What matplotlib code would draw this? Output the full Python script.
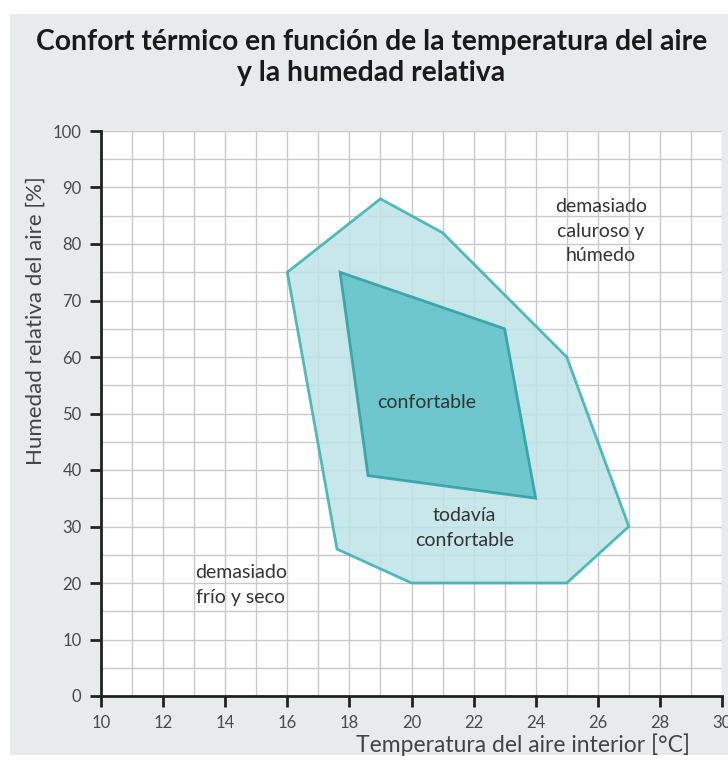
import matplotlib
matplotlib.use("Agg")
import matplotlib.pyplot as plt
from matplotlib.patches import Polygon, Rectangle

plt.rcParams['font.family'] = ['Lato', 'DejaVu Sans']

# outer zone: "todavía confortable"
outer_t = [16, 19, 21, 25, 27, 25, 20, 17.6]
outer_h = [75, 88, 82, 60, 30, 20, 20, 26]
# inner zone: "confortable"
inner_t = [17.7, 23, 24, 18.6]
inner_h = [75, 65, 35, 39]

x_ticks = [10, 12, 14, 16, 18, 20, 22, 24, 26, 28, 30]
y_ticks = [0, 10, 20, 30, 40, 50, 60, 70, 80, 90, 100]

labels = [
    ("demasiado\ncaluroso y\nhúmedo", 26.1, 82.3),
    ("confortable", 20.5, 52.0),
    ("todavía\nconfortable", 21.7, 29.7),
    ("demasiado\nfrío y seco", 14.5, 19.6),
]

fig = plt.figure(figsize=(7.28, 7.65), dpi=100)
fig.patch.set_facecolor('white')
fig.patches.append(Rectangle((10/728, 10/765), 1 - 10/728, 1 - 24/765,
                             transform=fig.transFigure, facecolor='#e7ebec',
                             edgecolor='none', zorder=-5))

ax = fig.add_axes([101/728, 1 - 696/765, 621/728, 565/765])
ax.set_facecolor('white')
ax.set_xlim(10, 30)
ax.set_ylim(0, 100)

# grid
for xv in range(10, 31):
    ax.axvline(xv, color='#c9c9c9', lw=1.0, zorder=1)
for yv in range(0, 101, 5):
    ax.axhline(yv, color='#c9c9c9', lw=1.0, zorder=1)

ax.add_patch(Polygon(list(zip(outer_t, outer_h)), closed=True,
                     facecolor='#bfe3e7', edgecolor='#35b0b0', lw=2, alpha=0.85, zorder=2))
ax.add_patch(Polygon(list(zip(inner_t, inner_h)), closed=True,
                     facecolor='#5fc2c7', edgecolor='#2a9fa3', lw=2, alpha=0.85, zorder=3))

for txt, xx, yy in labels:
    ax.text(xx, yy, txt, ha='center', va='center', fontsize=14,
            color='#333333', linespacing=1.55, zorder=4)

ax.set_xticks(x_ticks)
ax.set_yticks(y_ticks)
ax.tick_params(direction='out', length=8, width=2, color='#222222',
               labelsize=12, labelcolor='#4a4a4a', pad=6)
for s in ['top', 'right']:
    ax.spines[s].set_visible(False)
for s in ['left', 'bottom']:
    ax.spines[s].set_linewidth(2)
    ax.spines[s].set_color('#222222')

ax.set_ylabel("Humedad relativa del aire [%]", fontsize=16, color='#444444',
              va='center')
ax.yaxis.set_label_coords(-0.106, 0.665)
ax.set_xlabel("Temperatura del aire interior [°C]", fontsize=16.5, color='#444444',
              ha='right', va='center')
ax.xaxis.set_label_coords(0.948, -0.087)

fig.text(0.51, 1 - 42/765, "Confort térmico en función de la temperatura del aire",
         ha='center', va='center', fontsize=20.3, fontweight='bold', color='#1a1a1a')
fig.text(0.51, 1 - 73/765, "y la humedad relativa",
         ha='center', va='center', fontsize=20.3, fontweight='bold', color='#1a1a1a')

fig.savefig("out.png", dpi=100)
